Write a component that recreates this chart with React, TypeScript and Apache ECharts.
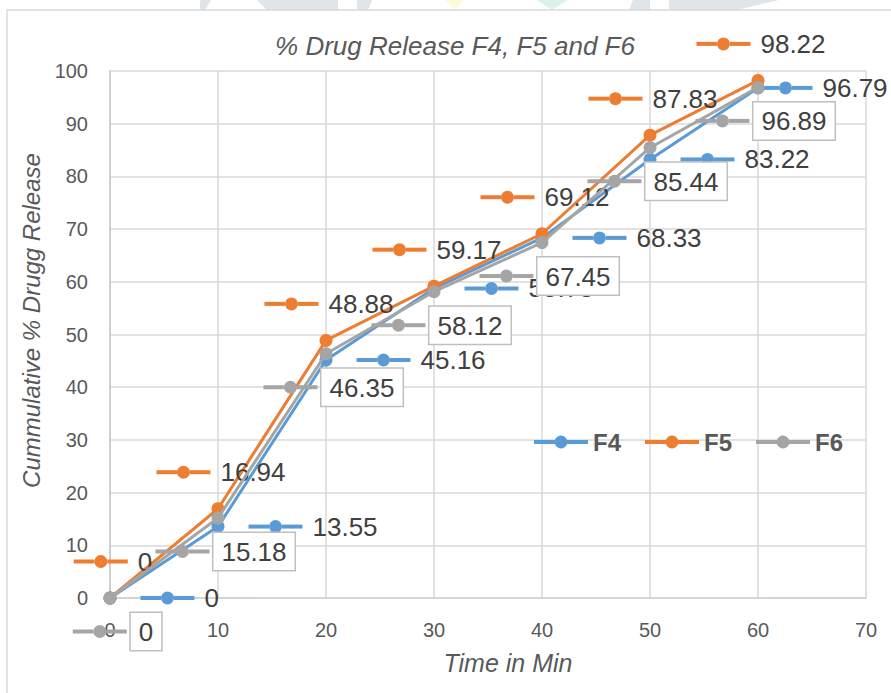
import React, { useEffect, useRef } from "react";
import * as echarts from "echarts";

const times = [0, 10, 20, 30, 40, 50, 60];
const f4 = [0, 13.55, 45.16, 58.73, 68.33, 83.22, 96.79];
const f5 = [0, 16.94, 48.88, 59.17, 69.12, 87.83, 98.22];
const f6 = [0, 15.18, 46.35, 58.12, 67.45, 85.44, 96.89];
const seriesNames = ["F4", "F5", "F6"];
const colors = ["#5B9BD5", "#ED7D31", "#A5A5A5"];

const FONT = "'Liberation Sans', Arial, sans-serif";
const TXT = "#595959";

function keyRich(color: string, boxed: boolean) {
  const r: any = {
    a: { width: 20.5, height: 4, backgroundColor: color },
    b: { width: 13, height: 13, borderRadius: 6.5, backgroundColor: color },
  };
  if (boxed) {
    r.s = { width: 4, height: 4 };
    r.v = {
      fontSize: 26,
      lineHeight: 26,
      fontFamily: FONT,
      color: "#404040",
      padding: [6, 8, 5, 8],
      borderColor: "#bfbfbf",
      borderWidth: 1.5,
      backgroundColor: "#ffffff",
    };
  } else {
    r.v = {
      fontSize: 26,
      lineHeight: 26,
      fontFamily: FONT,
      color: "#404040",
      padding: [0, 0, 0, 10],
    };
  }
  return r;
}

export default function App() {
  const ref = useRef<HTMLDivElement>(null);
  useEffect(() => {
    document.body.style.margin = "0";
    const chart = echarts.init(ref.current!, null, { renderer: "svg" });
    const values = [f4, f5, f6];
    const positions = ["right", "top", "bottom"];
    const distances = [24, 17, 14];
    const offsets = [[0, 0], [3, 0], [7, 0]];
    const series = values.map((vals, si) => ({
      name: seriesNames[si],
      type: "line",
      data: vals.map((v, i) => {
        const item: any = { value: [times[i], v] };
        if (si === 0 && i === vals.length - 1) item.label = { distance: -6 };
        return item;
      }),
      symbol: "circle",
      symbolSize: 13,
      showSymbol: true,
      lineStyle: { width: 3, color: colors[si] },
      itemStyle: { color: colors[si] },
      emphasis: { disabled: true },
      z: 2 + si,
      label: {
        show: true,
        position: positions[si],
        distance: distances[si],
        offset: offsets[si],
        formatter: (p: any) =>
          si === 2
            ? `{a| }{b| }{a| }{s| }{v|${p.value[1]}}`
            : `{a| }{b| }{a| }{v|${p.value[1]}}`,
        rich: keyRich(colors[si], si === 2),
      },
    }));

    const option: any = {
      animation: false,
      backgroundColor: "#ffffff",
      textStyle: { fontFamily: FONT },
      grid: { left: 110, right: 25, top: 71, bottom: 95 },
      legend: {
        data: seriesNames,
        left: 532,
        top: 430,
        padding: 0,
        itemWidth: 54,
        itemHeight: 16,
        itemGap: 22,
        lineStyle: { width: 4 },
        textStyle: { fontSize: 24, fontWeight: "bold", color: TXT, fontFamily: FONT },
      },
      xAxis: {
        type: "value",
        min: 0,
        max: 70,
        interval: 10,
        name: "Time in Min",
        nameLocation: "middle",
        nameGap: 52,
        nameTextStyle: { fontSize: 25, fontStyle: "italic", color: TXT, fontFamily: FONT, padding: [0, 0, 0, 40] },
        axisLine: { show: true, lineStyle: { color: "#d0d0d0", width: 1.5 } },
        axisTick: { show: false },
        axisLabel: { fontSize: 20, color: TXT, margin: 22, fontFamily: FONT },
        splitLine: { show: true, lineStyle: { color: "#d9d9d9", width: 1.5 } },
      },
      yAxis: {
        type: "value",
        min: 0,
        max: 100,
        interval: 10,
        name: "Cummulative % Drugg Release",
        nameLocation: "middle",
        nameGap: 65,
        nameTextStyle: { fontSize: 24, fontStyle: "italic", color: TXT, fontFamily: FONT, padding: [0, 0, 0, 28] },
        axisLine: { show: true, lineStyle: { color: "#c8c8c8", width: 1.5 } },
        axisTick: { show: false },
        axisLabel: { fontSize: 20, color: TXT, margin: 22, fontFamily: FONT },
        splitLine: { show: true, lineStyle: { color: "#d9d9d9", width: 1.5 } },
      },
      graphic: [
        { type: "polygon", silent: true, shape: { points: [[200, 0], [211, 0], [205, 10], [200, 10]] }, style: { fill: "#dfe5e8" } },
        { type: "polygon", silent: true, shape: { points: [[257, 0], [338, 0], [338, 10], [267, 10]] }, style: { fill: "#dfe5e8" } },
        { type: "polygon", silent: true, shape: { points: [[357, 0], [372, 0], [368, 10], [357, 10]] }, style: { fill: "#dfe5e8" } },
        { type: "polygon", silent: true, shape: { points: [[445, 0], [464, 0], [455, 10]] }, style: { fill: "#fdf9dc" } },
        { type: "polygon", silent: true, shape: { points: [[537, 0], [568, 0], [552, 10]] }, style: { fill: "#dcf2e8" } },
        { type: "polygon", silent: true, shape: { points: [[633, 0], [650, 0], [650, 10], [629, 10]] }, style: { fill: "#dfe5e8" } },
        { type: "polygon", silent: true, shape: { points: [[669, 0], [779, 0], [737, 10], [669, 10]] }, style: { fill: "#dfe5e8" } },
        { type: "rect", silent: true, shape: { x: 7, y: 10, width: 950, height: 750 }, style: { fill: "none", stroke: "#d9d9d9", lineWidth: 1.5 } },
        {
          type: "text",
          silent: true,
          x: 455,
          y: 46,
          style: {
            text: "% Drug Release F4, F5 and F6",
            fontSize: 26,
            fontStyle: "italic",
            fontFamily: FONT,
            fill: TXT,
            textAlign: "center",
            textVerticalAlign: "middle",
          },
        },
      ],
      series,
    };
    chart.setOption(option);
    return () => chart.dispose();
  }, []);
  return <div ref={ref} style={{ width: 891, height: 693 }} />;
}
